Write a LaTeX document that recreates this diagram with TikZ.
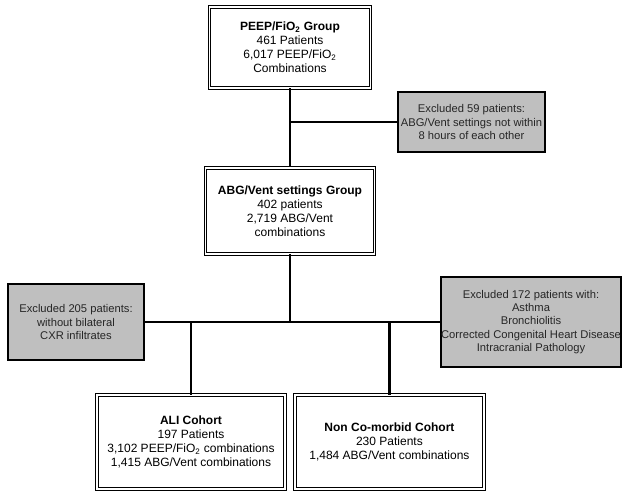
\documentclass[tikz,border=0pt]{standalone}
\usepackage{fontspec}
\setmainfont{Liberation Sans}
\usetikzlibrary{positioning}

\begin{document}
\begin{tikzpicture}[
      x=0.75pt, y=0.75pt,
      font=\fontsize{9}{10.6}\selectfont,
      grp/.style={rectangle, draw=black, double, double distance=1.3pt, line width=0.7pt,
        fill=white, align=center, inner sep=0pt},
      excl/.style={rectangle, draw=black, line width=1pt, fill=black!25, text=black!85,
        font=\fontsize{8.4}{10}\selectfont, align=center, inner sep=0pt},
      link/.style={line width=2pt, draw=black}
    ]
      \useasboundingbox (0,0) rectangle (629,-497);
      \node[grp, minimum width=120.75pt, minimum height=60.75pt] (peep) at (290,-47.5)
        {\textbf{PEEP/FiO\textsubscript{2} Group}\\461 Patients\\6,017 PEEP/FiO\textsubscript{2}\\Combinations};
      \node[grp, minimum width=126.75pt, minimum height=64.5pt, below=59.25pt of peep] (abg)
        {\textbf{ABG/Vent settings Group}\\402 patients\\2,719 ABG/Vent\\combinations};
      \node[excl, minimum width=110.25pt, minimum height=45pt] (ex59) at (471.5,-122)
        {Excluded 59 patients:\\ABG/Vent settings not within\\8 hours of each other};
      \node[excl, minimum width=102pt, minimum height=57pt] (ex205) at (76,-322)
        {Excluded 205 patients:\\without bilateral\\CXR infiltrates};
      \node[excl, minimum width=133.5pt, minimum height=67.5pt] (ex172) at (531,-322)
        {Excluded 172 patients with:\\Asthma\\Bronchiolitis\\Corrected Congenital Heart Disease\\Intracranial Pathology};
      \node[grp, minimum width=141pt, minimum height=70.5pt] (ali) at (191,-442)
        {\textbf{ALI Cohort}\\197 Patients\\3,102 PEEP/FiO\textsubscript{2} combinations\\1,415 ABG/Vent combinations};
      \node[grp, minimum width=141.75pt, minimum height=70.5pt, right=6.75pt of ali] (noncm)
        {\textbf{Non Co-morbid Cohort}\\230 Patients\\1,484 ABG/Vent combinations};
      \coordinate (split) at (abg.south |- ex205.east);
      \draw[link] (peep) -- (abg);
      \draw[link] (ex59.west) -- (ex59.west -| peep.south);
      \draw[link] (abg) -- (split);
      \draw[link] (ex205) -- (ex172);
      \draw[link] (ali.north |- split) -- (ali);
      \draw[link] (noncm.north |- split) -- (noncm);
    \end{tikzpicture}
\end{document}
